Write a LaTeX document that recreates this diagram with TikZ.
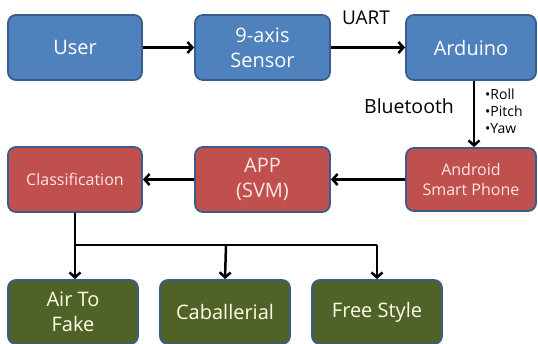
\documentclass[tikz,border=0pt]{standalone}
\usepackage{fontspec}
\setmainfont{Open Sans}
\usetikzlibrary{arrows.meta}
\definecolor{bfill}{HTML}{4F81BD}
\definecolor{rfill}{HTML}{C0504D}
\definecolor{gfill}{HTML}{4F6228}
\definecolor{edge}{HTML}{385D8A}
\tikzset{
  x=1pt,y=-1pt,
  box/.style={draw=edge, line width=1.8pt, rounded corners=8pt, align=center, inner sep=0pt},
  bluebox/.style={box, fill=bfill, text=white},
  redbox/.style={box, fill=rfill, text=white!90!red},
  greenbox/.style={box, fill=gfill, text=white!90!yellow},
  big/.style={font=\fontsize{20}{25}\selectfont},
  small/.style={font=\fontsize{16}{20}\selectfont},
  conn/.style={line width=2.5pt, -{Straight Barb[length=5pt,width=11pt,line width=2.5pt]}},
}
\begin{document}
\begin{tikzpicture}
\useasboundingbox (0,0) rectangle (538,343);
% row 1
\node[bluebox, big, minimum width=134pt, minimum height=65pt] (user) at (75,47.5) {User};
\node[bluebox, big, minimum width=135pt, minimum height=65pt] (sensor) at (262.5,47.5) {9-axis\\Sensor};
\node[bluebox, big, minimum width=130pt, minimum height=65pt] (ard) at (471,47.5) {Arduino};
% row 2
\node[redbox, small, minimum width=134pt, minimum height=65pt] (cls) at (75,179.5) {Classification};
\node[redbox, big, minimum width=135pt, minimum height=65pt] (app) at (262.5,179.5) {APP\\(SVM)};
\node[redbox, small, minimum width=130pt, minimum height=63pt] (andr) at (471,179.5) {Android\\Smart Phone};
% row 3
\node[greenbox, big, minimum width=130pt, minimum height=64pt] (air) at (73,312) {Air To\\Fake};
\node[greenbox, big, minimum width=130pt, minimum height=64pt] (cab) at (225,312) {Caballerial};
\node[greenbox, big, minimum width=130pt, minimum height=64pt] (free) at (377,312) {Free Style};
% labels
\node[font=\fontsize{19}{22}\selectfont] (uart) at (366,18) {UART};
\node[font=\fontsize{19.5}{22}\selectfont] (bt) at (409,106) {Bluetooth};
\node[font=\fontsize{14}{17}\selectfont, align=left, anchor=west, inner sep=0pt] (rpy) at (485,111) {•Roll\\•Pitch\\•Yaw};
% connectors
\draw[conn] (user) -- (sensor);
\draw[conn] (sensor) -- (ard);
\draw[conn] (ard.south -| 474,0) -- (andr.north -| 474,0);
\draw[conn] (andr) -- (app);
\draw[conn] (app) -- (cls);
\coordinate (b0) at (75,245);
\coordinate (b1) at (226,245);
\coordinate (b2) at (377,245);
\draw[line width=2.5pt] (cls.south) -- (b0) -- (b2);
\draw[conn] (b0) -- (air.north -| b0);
\draw[conn] (b1) -- (cab.north);
\draw[conn] (b2) -- (free.north);
\end{tikzpicture}
\end{document}
